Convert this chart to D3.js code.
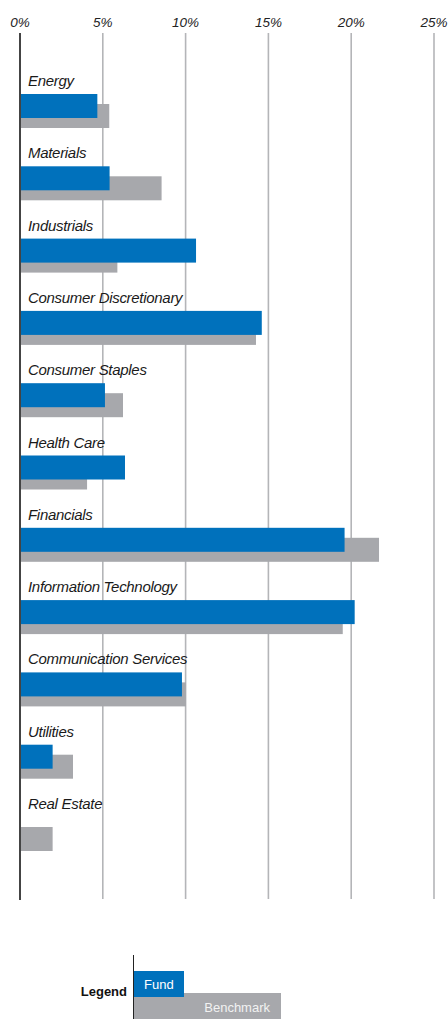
<!DOCTYPE html>
<html>
<head>
<meta charset="utf-8">
<script src="https://cdn.jsdelivr.net/npm/d3@7"></script>
<style>
  body { margin: 0; background: #fff; }
  svg { display: block; font-family: "Liberation Sans", Arial, sans-serif; }
</style>
</head>
<body>
<div id="chart"></div>
<script>
// Sector weights (%).
const sectors = ["Energy", "Materials", "Industrials", "Consumer Discretionary",
  "Consumer Staples", "Health Care", "Financials", "Information Technology",
  "Communication Services", "Utilities", "Real Estate"];
const fundValues = [4.67, 5.41, 10.63, 14.6, 5.13, 6.34, 19.6, 20.21, 9.78, 1.97, 0];
const benchmarkValues = [5.39, 8.55, 5.88, 14.25, 6.22, 4.05, 21.68, 19.49, 10.02, 3.2, 1.97];
const ticks = [0, 5, 10, 15, 20, 25];

const width = 448, height = 1019;
const fundColor = "#0071bc", benchColor = "#a7a8ac";

const svg = d3.select("#chart").append("svg")
  .attr("width", width)
  .attr("height", height);

// x scale: 0% to 25%
const x = d3.scaleLinear().domain([0, 25]).range([20, 434]);

// one band per sector
const y = d3.scaleBand().domain(sectors).range([70, 70 + 72.3 * sectors.length]);

// gridlines
svg.append("g")
  .selectAll("line")
  .data(ticks.slice(1))
  .enter()
  .append("line")
  .attr("x1", (d) => x(d))
  .attr("x2", (d) => x(d))
  .attr("y1", 33)
  .attr("y2", 899)
  .attr("stroke", "#b4b5b8")
  .attr("stroke-width", 1.6);

// tick labels
svg.append("g")
  .selectAll("text")
  .data(ticks)
  .enter()
  .append("text")
  .attr("x", (d) => x(d))
  .attr("y", 27)
  .attr("text-anchor", "middle")
  .attr("font-size", 13.5)
  .attr("font-style", "italic")
  .attr("fill", "#222")
  .text((d) => d + "%");

// benchmark bars (behind)
svg.append("g")
  .selectAll("rect")
  .data(sectors)
  .enter()
  .append("rect")
  .attr("x", x(0))
  .attr("y", (d) => y(d) + 34)
  .attr("width", (d, i) => x(benchmarkValues[i]) - x(0))
  .attr("height", 24)
  .attr("fill", benchColor);

// fund bars (front)
svg.append("g")
  .selectAll("rect")
  .data(sectors)
  .enter()
  .append("rect")
  .attr("x", x(0))
  .attr("y", (d) => y(d) + 24)
  .attr("width", (d, i) => x(fundValues[i]) - x(0))
  .attr("height", 24)
  .attr("fill", fundColor);

// sector labels
svg.append("g")
  .selectAll("text")
  .data(sectors)
  .enter()
  .append("text")
  .attr("x", 28)
  .attr("y", (d) => y(d) + 16)
  .attr("font-size", 15)
  .attr("font-style", "italic")
  .attr("letter-spacing", -0.3)
  .attr("fill", "#1a1a1a")
  .text((d) => d);

// zero axis line
svg.append("line")
  .attr("x1", x(0))
  .attr("x2", x(0))
  .attr("y1", 33)
  .attr("y2", 900)
  .attr("stroke", "#444")
  .attr("stroke-width", 2);

// legend
const legend = svg.append("g");
legend.append("rect")
  .attr("x", 134).attr("y", 993)
  .attr("width", 147).attr("height", 26)
  .attr("fill", benchColor);
legend.append("rect")
  .attr("x", 134).attr("y", 971)
  .attr("width", 50).attr("height", 26)
  .attr("fill", fundColor);
legend.append("line")
  .attr("x1", 133.5).attr("x2", 133.5)
  .attr("y1", 955).attr("y2", 1019)
  .attr("stroke", "#222").attr("stroke-width", 1);
legend.append("text")
  .attr("x", 127).attr("y", 996)
  .attr("text-anchor", "end")
  .attr("font-size", 13)
  .attr("font-weight", "bold")
  .attr("fill", "#111")
  .text("Legend");
legend.append("text")
  .attr("x", 144).attr("y", 989)
  .attr("font-size", 13)
  .attr("fill", "#fff")
  .text("Fund");
legend.append("text")
  .attr("x", 270).attr("y", 1012)
  .attr("text-anchor", "end")
  .attr("font-size", 13)
  .attr("fill", "#f2f2f2")
  .text("Benchmark");
</script>
</body>
</html>
